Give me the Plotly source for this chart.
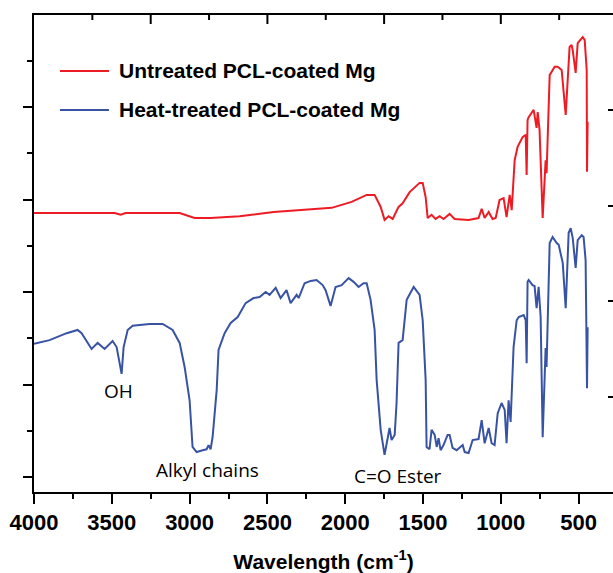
import plotly.graph_objects as go

# FTIR spectra: wavenumber (cm-1) and transmittance (a.u.)
untreated_wn = [4000, 3835, 3643, 3482, 3443, 3411, 3064, 2968, 2865, 2679, 2460, 2087,
                1959, 1862, 1811, 1772, 1747, 1721, 1695, 1657, 1631, 1586, 1522, 1502,
                1483, 1470, 1445, 1419, 1393, 1368, 1329, 1297, 1207, 1143, 1123, 1104,
                1078, 1053, 1033, 1008, 982, 963, 943, 930, 911, 892, 860, 840, 834, 828,
                821, 789, 770, 763, 751, 731, 712, 706, 686, 654, 635, 609, 583, 558, 545,
                538, 519, 506, 474, 461, 448, 446, 442]
untreated_t = [57.1, 57.1, 57.1, 57.1, 56.7, 57.1, 57.1, 56.0, 56.0, 56.4, 57.3, 58.2,
               59.5, 61.0, 61.0, 58.4, 55.6, 56.4, 55.8, 58.4, 59.2, 61.6, 63.6, 63.6,
               60.5, 56.0, 56.7, 55.8, 56.4, 55.8, 56.9, 55.8, 55.6, 56.0, 58.0, 56.0,
               57.3, 55.8, 56.0, 59.9, 60.3, 56.2, 61.0, 57.7, 68.5, 71.4, 73.5, 74.0, 65.3, 77.2,
               77.8, 79.4, 75.5, 78.9, 75.0, 56.0, 68.5, 65.7, 86.9, 88.7, 88.7, 88.0, 78.3, 93.0, 93.4,
               92.3, 87.4, 93.8, 95.1, 94.5, 88.0, 66.0, 76.8]

heat_wn = [4000, 3900, 3790, 3720, 3694, 3630, 3591, 3546, 3495, 3469, 3437, 3424, 3398,
           3366, 3257, 3173, 3109, 3064, 3032, 3000, 2981, 2955, 2916, 2891, 2878, 2865,
           2852, 2826, 2814, 2775, 2736, 2691, 2640, 2589, 2550, 2511, 2486, 2447, 2415,
           2377, 2351, 2312, 2299, 2261, 2222, 2184, 2145, 2126, 2094, 2062, 2023, 1978,
           1946, 1914, 1882, 1862, 1837, 1811, 1798, 1772, 1747, 1727, 1715, 1702, 1682,
           1670, 1657, 1631, 1605, 1560, 1522, 1502, 1483, 1477, 1458, 1445, 1425, 1412,
           1400, 1387, 1368, 1342, 1329, 1310, 1284, 1245, 1232, 1207, 1181, 1143, 1123,
           1104, 1078, 1059, 1040, 1020, 995, 975, 963, 950, 937, 918, 898, 885, 853, 840,
           834, 828, 821, 796, 783, 770, 757, 744, 731, 712, 706, 686, 667, 641, 628, 602,
           583, 564, 551, 538, 519, 506, 480, 468, 455, 446, 442]
heat_t = [28.8, 29.6, 31.1, 31.8, 31.1, 27.7, 29.0, 27.7, 29.4, 28.1, 22.3, 28.1, 31.8,
          32.7, 33.1, 33.1, 31.8, 29.0, 23.8, 16.6, 6.5, 5.4, 5.8, 6.0, 6.9, 6.0,
          8.7, 18.8, 27.5, 31.1, 33.3, 34.6, 37.6, 38.7, 38.9, 40.0, 39.4, 40.9, 38.7,
          40.4, 37.6, 39.4, 38.7, 41.9, 42.4, 42.6, 41.5, 40.4, 37.0, 41.1, 41.5, 43.0,
          42.2, 41.1, 41.9, 41.9, 38.3, 31.8, 21.0, 10.2, 4.8, 8.0, 10.6, 8.0, 9.1,
          16.0, 29.0, 29.6, 38.3, 41.1, 39.4, 33.9, 21.0, 6.5, 6.0, 10.2, 9.1, 6.5,
          8.4, 5.8, 6.9, 9.1, 9.1, 6.3, 5.8, 6.9, 5.4, 5.2, 8.0, 8.2, 12.3,
          7.3, 10.6, 7.3, 6.9, 13.8, 16.0, 14.5, 7.3, 16.6, 11.9, 28.1, 33.9, 34.6, 35.0, 33.9,
          24.6, 42.2, 42.6, 41.5, 41.3, 36.5, 41.1, 34.6, 8.6, 27.9, 23.8, 50.6, 51.9, 50.6, 50.2, 46.3,
          36.5, 52.8, 53.8, 51.7, 45.2, 51.2, 52.3, 51.9, 46.9, 19.2, 32.4]

series_names = ["Untreated PCL-coated Mg", "Heat-treated PCL-coated Mg"]
series_colors = ["#ED1C24", "#3953A4"]

# band assignments: (label, wavenumber, transmittance)
band_labels = [("OH", 3460, 18.5), ("Alkyl chains", 2884, 1.5), ("C=O Ester", 1660, 0.2)]

x_range = [4000, 279]
y_range = [-3.24, 99.9]
top_major = [3250, 2500, 1750, 1000]
top_minor = [3625, 2875, 2125, 1375, 625]
right_ticks = [17.3, 38.05, 58.6, 79.35]

PLOT_H = 573 - 15 - 81  # plot-area height in px


def wn_to_paper(v):
    """Fraction of the plot width at wavenumber v on the reversed x range."""
    return (x_range[0] - v) / (x_range[0] - x_range[1])


fig = go.Figure()
fig.add_trace(go.Scatter(x=untreated_wn, y=untreated_t, mode="lines", name=series_names[0],
                         line=dict(color=series_colors[0], width=2), showlegend=False))
# second spectrum sits on the frame (top/right) axes, which share the same ranges
fig.add_trace(go.Scatter(x=heat_wn, y=heat_t, mode="lines", name=series_names[1],
                         xaxis="x2", yaxis="y2",
                         line=dict(color=series_colors[1], width=2), showlegend=False))

tick_font = dict(family="Liberation Sans, Arial", size=22, color="black", weight="bold")

fig.update_layout(
    width=613, height=573,
    margin=dict(l=34, r=0, t=15, b=81),
    paper_bgcolor="white", plot_bgcolor="white",
    xaxis=dict(range=x_range, autorange=False, tick0=0, dtick=500,
               showline=True, linecolor="black", linewidth=2,
               ticks="outside", ticklen=10, tickwidth=2, tickcolor="black",
               minor=dict(dtick=250, tick0=0, ticks="outside", ticklen=5,
                          tickwidth=2, tickcolor="black"),
               showgrid=False, zeroline=False, tickfont=tick_font,
               title=dict(text="Wavelength (cm<sup>-1</sup>)", standoff=22,
                          font=dict(family="Liberation Sans, Arial", size=21,
                                    color="black", weight="bold"))),
    yaxis=dict(range=y_range, autorange=False, tick0=0, dtick=20,
               showline=True, linecolor="black", linewidth=2,
               ticks="outside", ticklen=9, tickwidth=2, tickcolor="black",
               minor=dict(dtick=10, tick0=0, ticks="outside", ticklen=5,
                          tickwidth=2, tickcolor="black"),
               showticklabels=False, showgrid=False, zeroline=False),
    xaxis2=dict(overlaying="x", side="top", anchor="y2", range=x_range, autorange=False,
                showticklabels=False, ticks="",
                showline=True, linecolor="black", linewidth=2,
                showgrid=False, zeroline=False),
    yaxis2=dict(overlaying="y", side="right", anchor="x", range=y_range, autorange=False,
                tickmode="array", tickvals=right_ticks, showticklabels=False,
                showline=False, ticks="inside", ticklen=5, tickwidth=2, tickcolor="black",
                showgrid=False, zeroline=False),
)

# tick marks hanging down from the top edge of the frame
for vals, length in ((top_major, 9), (top_minor, 5)):
    for v in vals:
        xp = wn_to_paper(v)
        fig.add_shape(type="line", xref="paper", yref="paper", x0=xp, x1=xp,
                      y0=1, y1=1 - length / PLOT_H, layer="above",
                      line=dict(color="black", width=2))

# band labels
for text, wn, t in band_labels:
    fig.add_annotation(x=wn, y=t, xref="x", yref="y", text=text, showarrow=False,
                       xanchor="center", yanchor="middle",
                       font=dict(family="Open Sans", size=19, color="black"))

# key: coloured line sample followed by the series name
key_rows = [0.8826, 0.8008]
for name, color, yk in zip(series_names, series_colors, key_rows):
    fig.add_shape(type="line", xref="paper", yref="paper", x0=0.0449, x1=0.1295,
                  y0=yk, y1=yk, line=dict(color=color, width=2))
    fig.add_annotation(x=0.1434, y=yk + 0.002, xref="paper", yref="paper", text=name,
                       showarrow=False, xanchor="left", yanchor="middle",
                       font=dict(family="Liberation Sans, Arial", size=21,
                                 color="black", weight="bold"))

fig.write_html("out.html")
